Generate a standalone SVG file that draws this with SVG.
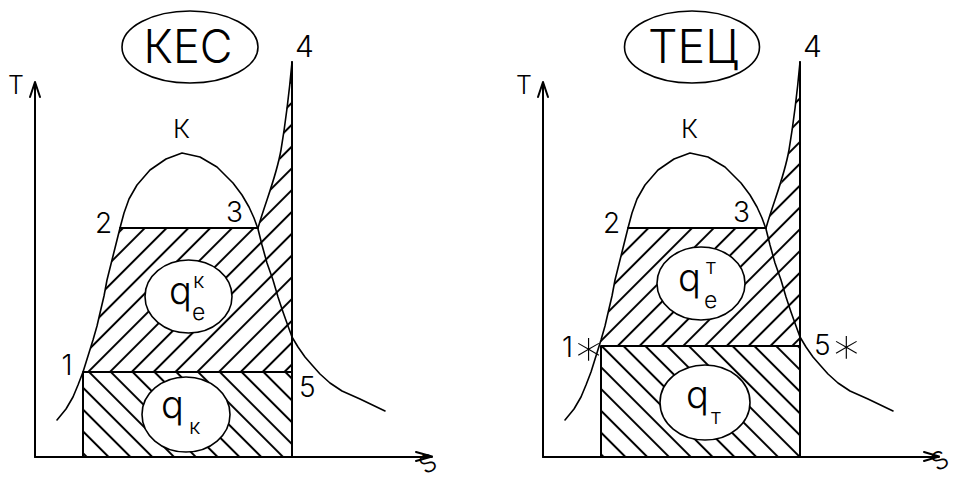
<svg xmlns="http://www.w3.org/2000/svg" width="956" height="482" viewBox="0 0 956 482">
<style>
.ln{fill:none;stroke:#000;stroke-width:2;stroke-linecap:round;stroke-linejoin:round}
.cv{fill:none;stroke:#000;stroke-width:1.6;stroke-linejoin:round;stroke-linecap:round}
.el{fill:#fff;stroke:#000;stroke-width:1.6}
.tx{font-family:Inter,"Liberation Sans",sans-serif;font-weight:300;fill:#000}
.hl{stroke:#000;stroke-width:2}
.ast{font-family:Inter,"DejaVu Sans",sans-serif;font-weight:300}
</style>
<defs>
<pattern id="hUL" patternUnits="userSpaceOnUse" width="15.415" height="20" patternTransform="rotate(45) translate(-6.08 0)"><line class="hl" x1="7.71" y1="-2" x2="7.71" y2="22"/></pattern>
<pattern id="hLL" patternUnits="userSpaceOnUse" width="15.415" height="20" patternTransform="rotate(-45) translate(-7.36 0)"><line class="hl" x1="7.71" y1="-2" x2="7.71" y2="22"/></pattern>
<pattern id="hUR" patternUnits="userSpaceOnUse" width="15.415" height="20" patternTransform="rotate(45) translate(-4.53 0)"><line class="hl" x1="7.71" y1="-2" x2="7.71" y2="22"/></pattern>
<pattern id="hLR" patternUnits="userSpaceOnUse" width="15.415" height="20" patternTransform="rotate(-45) translate(3.53 0)"><line class="hl" x1="7.71" y1="-2" x2="7.71" y2="22"/></pattern>
<path id="sat" d="M57,420 L66,409 L73,397 L78,385 L83,372 L88,356 L93,340 L97,326 L100,313 L104,296 L107,280 L111,264 L115,248 L120,228 L124,213 L129,199 L137,185 L150,170 L166,159 L182,153 L200,157 L217,167 L233,183 L242,195 L249,207 L254,218 L258,229 L262,245 L267,263 L273,280 L278,297 L283,312 L288,326 L292,337 L298,347 L305,357 L312,365 L320,374 L330,383 L342,391 L360,399 L385,411"/>
<path id="sup" d="M258,228 C266,200 276,178 281,150 C286,120 289,95 292,62"/>
</defs>

<!-- LEFT: KEC -->
<g id="kes-hatch">
<polygon fill="url(#hUL)" points="83,372 88,356 93,340 97,326 100,313 104,296 107,280 111,264 115,248 120,228 258,228 266,200 272,186 278,170 281,150 284,128 287,105 290,82 292,62 292,372"/>
<rect fill="url(#hLL)" x="83" y="372" width="209" height="85"/>
</g>
<g id="kes-connectors">
<path class="ln" d="M35,457 V82 M30,97 L35,82 L40,97"/>
<path class="ln" d="M35,457 H432 M416,452 L432,456.5 L416,461"/>
<path class="ln" d="M292,62 V457"/>
<path class="ln" d="M83,457 V372 H292"/>
<path class="ln" d="M120,228 H258"/>
<use href="#sat" class="cv"/>
<use href="#sup" class="cv"/>
</g>
<g id="kes-title">
<ellipse class="el" cx="190" cy="47" rx="68" ry="36"/>
<text class="tx" x="188" y="63" font-size="46" text-anchor="middle" textLength="89" lengthAdjust="spacingAndGlyphs">КЕС</text>
</g>
<g id="kes-qe">
<ellipse class="el" cx="188.5" cy="296.5" rx="43.5" ry="36.5"/>
<text class="tx" x="169" y="304" font-size="38">q</text>
<text class="tx" x="193" y="288" font-size="22">к</text>
<text class="tx" x="192" y="320" font-size="23">е</text>
</g>
<g id="kes-qk">
<ellipse class="el" cx="186" cy="414.5" rx="44" ry="37.5"/>
<text class="tx" x="161" y="418" font-size="38">q</text>
<text class="tx" x="189" y="434" font-size="22">к</text>
</g>
<g id="kes-labels">
<text class="tx" x="8" y="94" font-size="25">T</text>
<text class="tx" x="173" y="138" font-size="26">К</text>
<text class="tx" x="95" y="233" font-size="28">2</text>
<text class="tx" x="226" y="222" font-size="28">3</text>
<text class="tx" x="295" y="57" font-size="30">4</text>
<text class="tx" x="67" y="375" font-size="28" text-anchor="middle">1</text>
<text class="tx" x="299" y="397" font-size="28">5</text>
<text class="tx" font-size="25" text-anchor="middle" transform="translate(432,471) rotate(-30)">S</text>
</g>

<!-- RIGHT: TEC -->
<g id="tec-hatch">
<polygon fill="url(#hUR)" points="600,346 601,340 605,326 608,313 612,296 615,280 619,264 623,248 628,228 766,228 774,200 780,186 786,170 789,150 792,128 795,105 798,82 800,62 800,346"/>
<rect fill="url(#hLR)" x="601" y="346" width="199" height="111"/>
</g>
<g id="tec-connectors">
<path class="ln" d="M543,457 V82 M538,97 L543,82 L548,97"/>
<path class="ln" d="M543,457 H939 M924,452 L939,456.5 L924,461"/>
<path class="ln" d="M800,62 V457"/>
<path class="ln" d="M601,457 V346 H800"/>
<path class="ln" d="M628,228 H766"/>
<use href="#sat" class="cv" transform="translate(508 0)"/>
<use href="#sup" class="cv" transform="translate(508 0)"/>
</g>
<g id="tec-title">
<ellipse class="el" cx="692" cy="47" rx="67.5" ry="36"/>
<text class="tx" x="693" y="63" font-size="46" text-anchor="middle" textLength="90" lengthAdjust="spacingAndGlyphs">ТЕЦ</text>
</g>
<g id="tec-qe">
<ellipse class="el" cx="701" cy="283.5" rx="44" ry="36.5"/>
<text class="tx" x="678" y="291" font-size="38">q</text>
<text class="tx" x="706" y="274" font-size="22">т</text>
<text class="tx" x="704" y="308" font-size="23">е</text>
</g>
<g id="tec-qt">
<ellipse class="el" cx="705" cy="402.5" rx="45" ry="37.5"/>
<text class="tx" x="686" y="408" font-size="38">q</text>
<text class="tx" x="711" y="424" font-size="22">т</text>
</g>
<g id="tec-labels">
<text class="tx" x="516" y="94" font-size="25">T</text>
<text class="tx" x="681" y="138" font-size="26">К</text>
<text class="tx" x="603" y="233" font-size="28">2</text>
<text class="tx" x="733" y="222" font-size="28">3</text>
<text class="tx" x="803" y="57" font-size="30">4</text>
<text class="tx" x="562" y="357" font-size="28">1<tspan class="ast" font-size="50" dy="8">∗</tspan></text>
<text class="tx" x="814" y="355" font-size="28">5<tspan class="ast" font-size="50" dy="8">∗</tspan></text>
<text class="tx" font-size="25" text-anchor="middle" transform="translate(944,468) rotate(-30)">S</text>
</g>
</svg>
